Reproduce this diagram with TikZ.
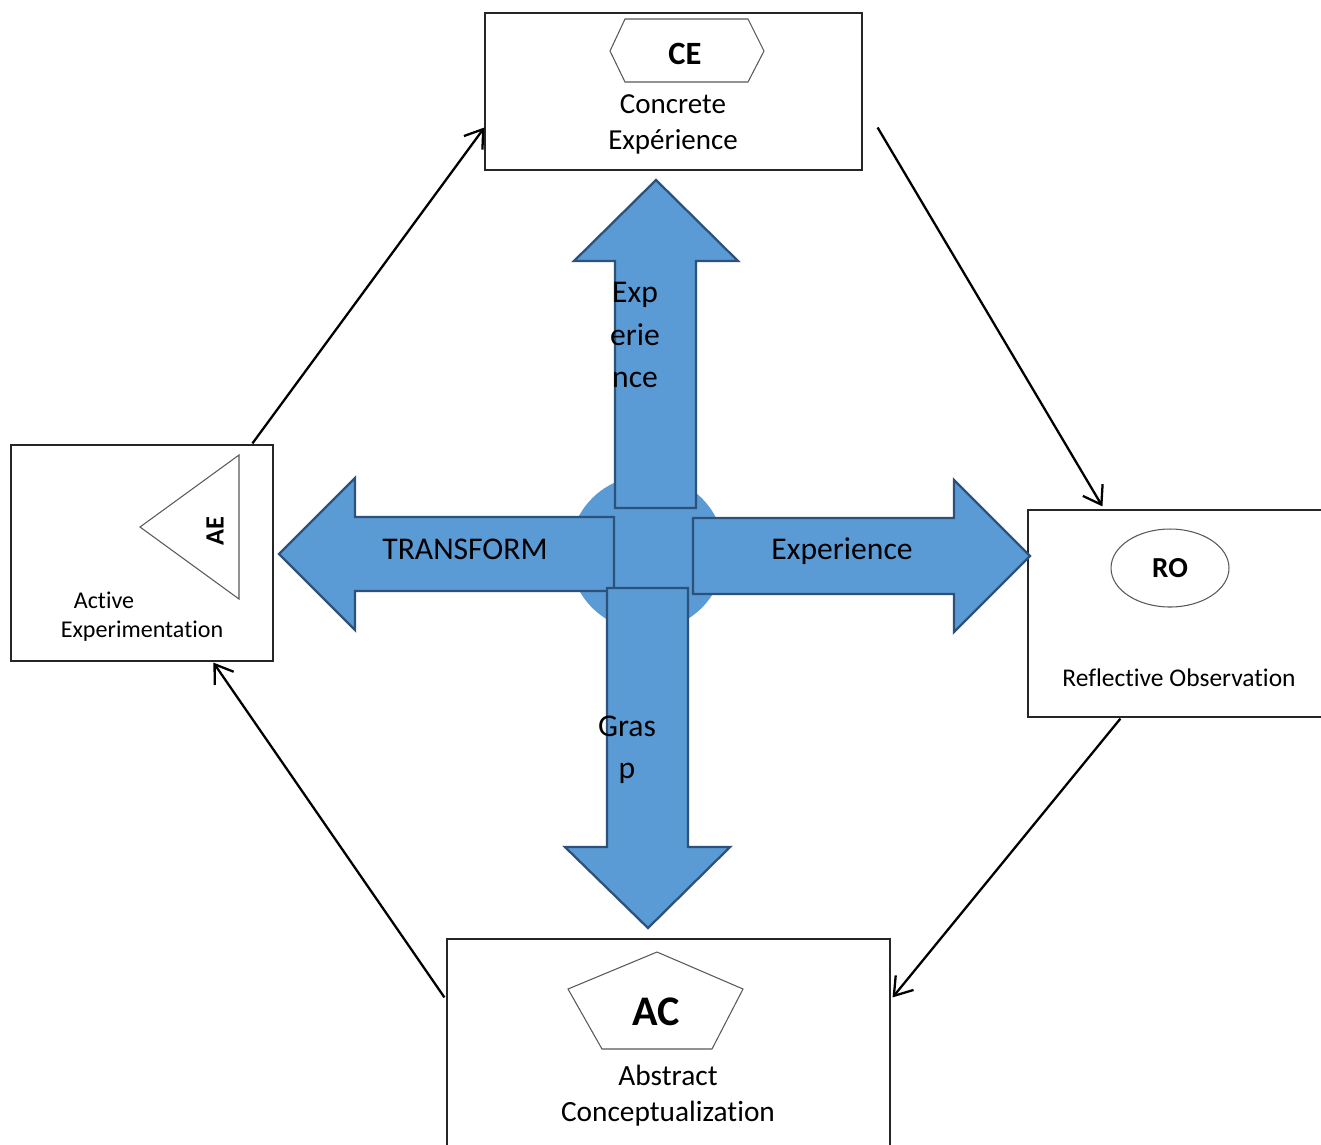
\documentclass[tikz,border=0pt]{standalone}
\usepackage{fontspec}
\setmainfont{Carlito}[Ligatures={NoCommon,NoContextual,NoRare},Contextuals=NoAlternate]
\usetikzlibrary{calc}
\usetikzlibrary{arrows.meta}
\usetikzlibrary{shapes.geometric}
\definecolor{armfill}{RGB}{91,155,213}
\definecolor{armline}{RGB}{44,82,124}

\begin{document}
\begin{tikzpicture}[
    x=0.02cm, y=-0.02cm,
    stage/.style={
        draw=black!85, line width=0.7pt, fill=white, inner sep=0pt
    },
    badge/.style={draw=black!65, line width=0.6pt},
    arm/.style={fill=armfill, draw=armline, line width=1.3pt, line join=miter},
    armtext/.style={font=\fontsize{18}{24}\selectfont, inner sep=0pt, align=center},
    caption/.style={inner sep=0pt, align=center},
    flow/.style={-{Straight Barb[length=3.4mm,width=4.6mm]}, line width=1.3pt},
]
\clip (0,0) rectangle (1321,1144);

% Stage boxes
\node[stage, minimum width=7.54cm, minimum height=3.14cm] (ce) at (673.5,91.5) {};
\node[stage, minimum width=5.24cm, minimum height=4.32cm] (ae) at (142,553)    {};
\node[stage, minimum width=6.04cm, minimum height=4.14cm] (ro) at (1179,613.5) {};
\node[stage, minimum width=8.86cm, minimum height=4.42cm] (ac) at (668.5,1049.5) {};

% Badges
\draw[badge] (610,51) -- (625,19) -- (748,19) -- (764,51) -- (748,82) -- (625,82) -- cycle;
\node[font=\bfseries\fontsize{18.5}{20}\selectfont] (ce-tag) at (685,54) {CE};
\draw[badge] (140,527) -- (239,455) -- (239,599) -- cycle;
\node[rotate=90, font=\bfseries\fontsize{15}{18}\selectfont] (ae-tag) at (215,531) {AE};
\node[badge, ellipse, minimum width=2.36cm, minimum height=1.56cm, inner sep=0pt,
      font=\bfseries\fontsize{16.5}{18}\selectfont] (ro-tag) at (1170,568) {RO};
\draw[badge] (657,952) -- (743,989) -- (712,1049) -- (602,1049) -- (568,989) -- cycle;
\node[font=\bfseries\fontsize{24}{28}\selectfont] (ac-tag) at (656,1012) {AC};

% Stage captions
\node[caption, font=\fontsize{16.5}{20.5}\selectfont] (ce-text) at (673,124) {Concrete\\Expérience};
\node[caption, font=\fontsize{13.7}{16}\selectfont] (ae-text1) at (104,600) {Active};
\node[caption, font=\fontsize{13.7}{16}\selectfont] (ae-text2) at (142,631) {Experimentat\kern0pt ion};
\node[caption, font=\fontsize{14.5}{17}\selectfont] (ro-text) at (1179,678) {Reflect\kern0pt ive Observat\kern0pt ion};
\node[caption, font=\fontsize{16.7}{20.5}\selectfont] (ac-text) at (668,1096) {Abstract\\Conceptualizat\kern0pt ion};

% Hub and big arrows
\fill[armfill] (647,553) circle [radius=1.55cm];
\draw[arm] (615,508) -- (615,261) -- (574,261) -- (656,180) -- (738,261) -- (696,261) -- (696,508) -- cycle;
\draw[arm] (693,518) -- (954,518) -- (954,480) -- (1030,556) -- (954,632) -- (954,594) -- (693,594) -- cycle;
\draw[arm] (614,517) -- (355,517) -- (355,478) -- (279,554) -- (355,630) -- (355,591) -- (614,591) -- cycle;
\draw[arm] (607,588) -- (607,847) -- (565,847) -- (648,928) -- (730,847) -- (688,847) -- (688,588) -- cycle;

% Arrow labels
\node[armtext] (up-text)    at (635,335) {Exp\\erie\\nce};
\node[armtext] (left-text)  at (465,549) {TRANSFORM};
\node[armtext] (right-text) at (842,551) {Experience};
\node[armtext] (down-text)  at (627,750) {Gras\\p};

% Cycle connectors
\draw[flow] ($(ae.north west)+(242,-1)$) -- ($(ce.west)+(0,36)$);
\draw[flow] ($(ce.east)+(15,36)$)        -- ($(ro.north west)+(75,-3)$);
\draw[flow] ($(ro.south west)+(93,1)$)   -- ($(ac.north east)+(2,59)$);
\draw[flow] ($(ac.north west)+(-2,59)$)  -- ($(ae.south west)+(203,1)$);

\end{tikzpicture}
\end{document}
